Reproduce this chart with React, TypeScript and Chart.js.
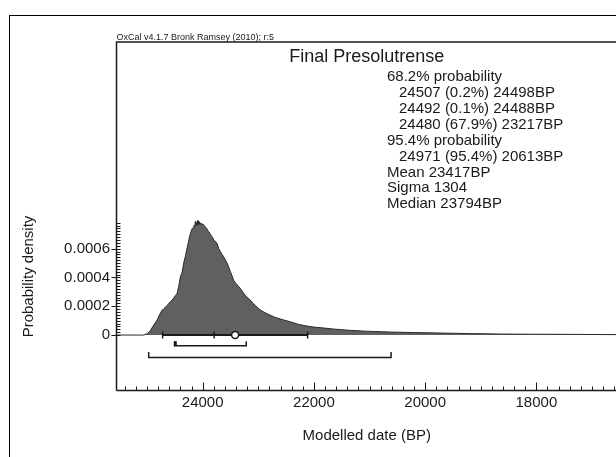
import React, { useEffect, useRef } from 'react';
import { Chart, registerables } from 'chart.js';

Chart.register(...registerables);

// ---- data ----
const dates = [
  25550, 25060, 24994, 24940, 24880, 24819, 24790, 24760, 24730, 24701, 24670, 24640, 24610, 24580,
  24550, 24521, 24490, 24460, 24430, 24401, 24370, 24341, 24310, 24280, 24255, 24239, 24215, 24190,
  24172, 24158, 24145, 24131, 24120, 24113, 24104, 24095, 24086, 24077, 24068, 24059, 24045, 24032,
  24015, 23996, 23975, 23951, 23925, 23898, 23870, 23844, 23820, 23802, 23770, 23741, 23710, 23682,
  23650, 23623, 23590, 23562, 23530, 23502, 23470, 23443, 23410, 23382, 23350, 23323, 23290, 23263,
  23230, 23202, 23170, 23143, 23100, 23053, 23010, 22963, 22900, 22843, 22780, 22724, 22650, 22573,
  22500, 22424, 22350, 22275, 22200, 22124, 22030, 21944, 21850, 21765, 21630, 21495, 21360, 21226,
  21080, 20927, 20780, 20627, 20400, 20178, 19950, 19729, 19450, 19190, 18900, 18650, 18100, 17572,
  17050, 16550,
];
const density = [
  0, 0, 0.00001, 0.000032, 0.00007, 0.000104, 0.00013, 0.000152, 0.000174, 0.000178, 0.000195, 0.000205, 0.00022, 0.000232,
  0.000243, 0.000258, 0.000275, 0.00029, 0.00034, 0.000405, 0.000435, 0.0005, 0.00055, 0.000605, 0.00065, 0.00068, 0.00071, 0.00074,
  0.000745, 0.00076, 0.000752, 0.00079, 0.000765, 0.00078, 0.00076, 0.000795, 0.000772, 0.00079, 0.000768, 0.000785, 0.000772, 0.000778,
  0.000765, 0.000772, 0.00076, 0.00075, 0.000738, 0.00072, 0.000706, 0.00069, 0.000676, 0.00066, 0.00065, 0.000635, 0.0006, 0.00058,
  0.00056, 0.000544, 0.00052, 0.0005, 0.00047, 0.00044, 0.00041, 0.00038, 0.000362, 0.00035, 0.000335, 0.000324, 0.000305, 0.00029,
  0.000275, 0.000262, 0.000252, 0.000243, 0.000222, 0.000205, 0.000188, 0.000174, 0.00016, 0.000148, 0.000137, 0.000127, 0.000117, 0.000108,
  0.0001, 0.0000924, 0.000083, 0.000074, 0.000068, 0.0000625, 0.000057, 0.000053, 0.00005, 0.0000465, 0.000041, 0.000037, 0.000033, 0.00003,
  0.000027, 0.000025, 0.000023, 0.0000208, 0.000019, 0.000017, 0.0000155, 0.0000139, 0.000012, 0.00001, 0.0000085, 0.000007, 0.0000058, 0.000005,
  0.000004, 0.000003,
];

const meanBP = 23417;
const sigmaBP = 1304;
const medianBP = 23794;
const range68 = [
  [24507, 24498],
  [24492, 24488],
  [24480, 23217],
];
const range95 = [[24971, 20613]];

const xTickValues = [24000, 22000, 20000, 18000];
const yTickValues = [0, 0.0002, 0.0004, 0.0006];

const headerText = 'OxCal v4.1.7 Bronk Ramsey (2010); r:5';
const titleText = 'Final Presolutrense';
const infoLines = [
  '68.2% probability',
  '24507 (0.2%) 24498BP',
  '24492 (0.1%) 24488BP',
  '24480 (67.9%) 23217BP',
  '95.4% probability',
  '24971 (95.4%) 20613BP',
  'Mean 23417BP',
  'Sigma 1304',
  'Median 23794BP',
];
const infoIndent = [0, 1, 1, 1, 0, 1, 0, 0, 0];
const xTitle = 'Modelled date (BP)';
const yTitle = 'Probability density';

// ---- axis limits / layout constants ----
const X_MIN = 16550;
const X_MAX = 25550;
const Y_MIN = -0.000385;
const Y_MAX = 0.002035;
const Y_MINOR_STEP = 0.00002;
const Y_MINOR_MAX = 0.00078;
const B68_Y = -0.0000736;
const B68_TOP = -0.000043;
const B95_Y = -0.000155;
const B95_TOP = -0.000118;

const FONT = '"Liberation Sans", Arial, Helvetica, sans-serif';
const INK = '#1a1a1a';

function bracket(r: number[], base: number, top: number) {
  return {
    type: 'line' as const,
    data: [
      { x: r[0], y: top },
      { x: r[0], y: base },
      { x: r[1], y: base },
      { x: r[1], y: top },
    ],
    borderColor: INK,
    borderWidth: 1.5,
    pointRadius: 0,
    fill: false,
  };
}

const decor = {
  id: 'decor',
  afterDraw(chart: any) {
    const { ctx, chartArea: a, scales } = chart;
    const x = scales.x;
    const y = scales.y;
    ctx.save();
    ctx.strokeStyle = INK;
    const seg = (x1: number, y1: number, x2: number, y2: number) => {
      ctx.beginPath();
      ctx.moveTo(x1, y1);
      ctx.lineTo(x2, y2);
      ctx.stroke();
    };
    // plot frame
    ctx.lineWidth = 1.5;
    ctx.beginPath();
    ctx.moveTo(a.left, a.bottom);
    ctx.lineTo(a.left, a.top);
    ctx.lineTo(a.right + 20, a.top);
    ctx.moveTo(a.left, a.bottom);
    ctx.lineTo(a.right + 20, a.bottom);
    ctx.stroke();
    // x ticks (inward)
    ctx.lineWidth = 1;
    for (let v = Math.ceil(X_MIN / 200) * 200; v <= X_MAX; v += 200) {
      const px = Math.round(x.getPixelForValue(v)) + 0.5;
      const len = v % 2000 === 0 ? 8 : 4;
      seg(px, a.bottom, px, a.bottom - len);
    }
    // y major ticks (outward)
    for (const v of yTickValues) {
      const py = Math.round(y.getPixelForValue(v)) + 0.5;
      seg(a.left - 5, py, a.left, py);
    }
    // y minor ticks (inward)
    for (let i = 0; i * Y_MINOR_STEP <= Y_MINOR_MAX + 1e-12; i++) {
      const py = Math.round(y.getPixelForValue(i * Y_MINOR_STEP)) + 0.5;
      seg(a.left, py, a.left + 4, py);
    }
    // texts
    ctx.fillStyle = INK;
    ctx.font = `9px ${FONT}`;
    ctx.textAlign = 'left';
    ctx.textBaseline = 'alphabetic';
    ctx.fillText(headerText, a.left, a.top - 2);

    ctx.font = `18px ${FONT}`;
    ctx.textAlign = 'center';
    ctx.textBaseline = 'middle';
    ctx.fillText(titleText, (a.left + a.right) / 2, 57);

    ctx.font = `15px ${FONT}`;
    ctx.textAlign = 'left';
    infoLines.forEach((t, i) => {
      ctx.fillText(t, 387 + infoIndent[i] * 12, 77 + i * 15.9);
    });

    ctx.save();
    ctx.translate(28.5, 276.5);
    ctx.rotate(-Math.PI / 2);
    ctx.textAlign = 'center';
    ctx.textBaseline = 'middle';
    ctx.fillText(yTitle, 0, 0);
    ctx.restore();

    ctx.restore();
  },
};

export default function App() {
  const ref = useRef<HTMLCanvasElement>(null);
  useEffect(() => {
    const datasets: any[] = [
      {
        type: 'scatter',
        data: [{ x: meanBP, y: 0 }],
        pointStyle: 'circle',
        pointRadius: 3.5,
        pointBackgroundColor: '#fff',
        pointBorderColor: INK,
        pointBorderWidth: 1.5,
      },
      {
        type: 'scatter',
        data: [
          { x: meanBP + sigmaBP, y: 0 },
          { x: medianBP, y: 0 },
          { x: meanBP - sigmaBP, y: 0 },
        ],
        pointStyle: 'line',
        rotation: 90,
        pointRadius: 3.5,
        pointBorderColor: INK,
        pointBorderWidth: 1.5,
      },
      {
        type: 'line',
        data: [
          { x: meanBP + sigmaBP, y: 0 },
          { x: meanBP - sigmaBP, y: 0 },
        ],
        borderColor: INK,
        borderWidth: 2,
        pointRadius: 0,
        fill: false,
      },
      ...range68.map((r) => bracket(r, B68_Y, B68_TOP)),
      ...range95.map((r) => bracket(r, B95_Y, B95_TOP)),
      {
        type: 'line',
        data: dates.map((d, i) => ({ x: d, y: density[i] })),
        borderColor: '#2a2a2a',
        borderWidth: 1,
        backgroundColor: '#606060',
        fill: 'origin',
        pointRadius: 0,
        tension: 0,
      },
    ];
    const chart = new Chart(ref.current as HTMLCanvasElement, {
      type: 'line',
      data: { datasets },
      options: {
        animation: false,
        responsive: false,
        devicePixelRatio: 1,
        layout: { padding: { top: 42, left: 0, right: 13, bottom: 0 } },
        plugins: { legend: { display: false }, tooltip: { enabled: false }, title: { display: false } },
        scales: {
          x: {
            type: 'linear',
            reverse: true,
            min: X_MIN,
            max: X_MAX,
            afterBuildTicks: (s: any) => {
              s.ticks = xTickValues.map((v) => ({ value: v }));
            },
            afterFit: (s: any) => {
              s.height = 66.5;
            },
            grid: { display: false, drawTicks: false },
            border: { display: false },
            ticks: {
              font: { family: FONT, size: 15 },
              color: INK,
              padding: 3,
              maxRotation: 0,
              autoSkip: false,
              callback: (v: any) => String(v),
            },
            title: {
              display: true,
              text: xTitle,
              color: INK,
              font: { family: FONT, size: 15 },
              padding: { top: 0, bottom: 12 },
            },
          },
          y: {
            type: 'linear',
            min: Y_MIN,
            max: Y_MAX,
            afterBuildTicks: (s: any) => {
              s.ticks = yTickValues.map((v) => ({ value: v }));
            },
            afterFit: (s: any) => {
              s.width = 116.5;
            },
            grid: { display: false, drawTicks: false },
            border: { display: false },
            ticks: {
              font: { family: FONT, size: 15 },
              color: INK,
              padding: 6.5,
              autoSkip: false,
              callback: (v: any) => (v === 0 ? '0' : Number(v).toFixed(4)),
            },
          },
        },
      },
      plugins: [decor],
    } as any);
    return () => chart.destroy();
  }, []);
  return (
    <div
      style={{
        position: 'fixed',
        left: 0,
        top: 0,
        width: 616,
        height: 457,
        overflow: 'hidden',
        background: '#fff',
      }}
    >
      <div
        style={{
          position: 'absolute',
          left: 9,
          top: 15,
          width: 700,
          height: 600,
          border: '1px solid #000',
        }}
      />
      <canvas
        ref={ref}
        width={630}
        height={457}
        style={{ position: 'absolute', left: 0, top: 0, width: 630, height: 457 }}
      />
    </div>
  );
}
